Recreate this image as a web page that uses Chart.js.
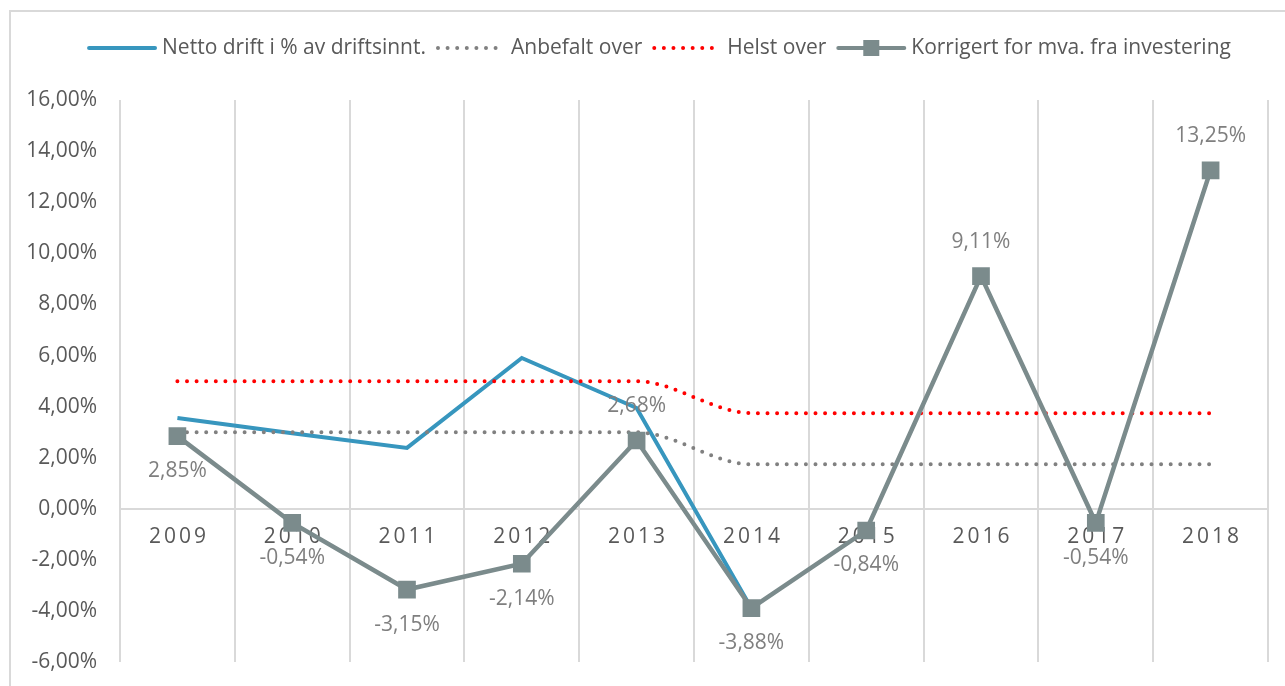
<!DOCTYPE html>
<html>
<head>
<meta charset="utf-8">
<script src="https://cdn.jsdelivr.net/npm/chart.js@4.4.0/dist/chart.umd.min.js"></script>
<style>
html, body { margin: 0; padding: 0; background: #fff; overflow: hidden; width: 1285px; height: 686px; }
#frame { position: absolute; left: 9px; top: 10px; width: 1400px; height: 800px; border-left: 2px solid #d9d9d9; border-top: 2px solid #d9d9d9; }
#wrap { position: absolute; left: 0; top: 0; width: 1285px; height: 698px; }
</style>
</head>
<body>
<div id="frame"></div>
<div id="wrap"><canvas id="chart"></canvas></div>
<script>
// data (percent)
const years = ['2009', '2010', '2011', '2012', '2013', '2014', '2015', '2016', '2017', '2018'];
const netto = [3.56, 2.96, 2.39, 5.91, 3.95, -3.88, null, null, null, null];
const anbefalt = [3, 3, 3, 3, 3, 1.75, 1.75, 1.75, 1.75, 1.75];
const helst = [5, 5, 5, 5, 5, 3.75, 3.75, 3.75, 3.75, 3.75];
const korrigert = [2.85, -0.54, -3.15, -2.14, 2.68, -3.88, -0.84, 9.11, -0.54, 13.25];
const yMin = -6, yMax = 16, yStep = 2;

const FONT = '"Open Sans", sans-serif';
const FSIZE = 21;
const BLUE = '#3796be';
const GREY_LINE = '#7b8b8c';

function pct(v) {
    return v.toFixed(2).replace('.', ',') + '%';
}

// labels above the point for these indexes, below for the rest
const labelsAbove = [4, 7, 9];

// x labels with letter spacing, under the lines
const xLabelsPlugin = {
    id: 'xLabels',
    beforeDatasetsDraw(chart) {
        const ctx = chart.ctx;
        const x = chart.scales.x, y = chart.scales.y;
        const y0 = y.getPixelForValue(0) + 28;
        ctx.save();
        ctx.font = FSIZE + 'px ' + FONT;
        ctx.fillStyle = '#595959';
        ctx.textAlign = 'center';
        ctx.textBaseline = 'middle';
        const sp = 3;
        ctx.letterSpacing = sp + 'px';
        years.forEach((yr, i) => {
            ctx.fillText(yr, x.getPixelForValue(i) + sp / 2, y0);
        });
        ctx.restore();
    }
};

// value labels on the grey series
const valueLabelsPlugin = {
    id: 'valueLabels',
    afterDatasetsDraw(chart) {
        const ctx = chart.ctx;
        const meta = chart.getDatasetMeta(3);
        ctx.save();
        ctx.font = FSIZE + 'px ' + FONT;
        ctx.fillStyle = '#7f7f7f';
        ctx.textAlign = 'center';
        ctx.textBaseline = 'middle';
        meta.data.forEach((pt, i) => {
            const off = labelsAbove.includes(i) ? -34 : 35;
            ctx.fillText(pct(korrigert[i]), pt.x, pt.y + off);
        });
        ctx.restore();
    }
};

// legend drawn by hand so the swatches look like the Excel ones
const legendPlugin = {
    id: 'customLegend',
    afterDraw(chart) {
        const ctx = chart.ctx;
        const ds = chart.data.datasets;
        const sw = 70, gapText = 5, gapItem = 10, yy = 48;
        ctx.save();
        ctx.font = FSIZE + 'px ' + FONT;
        let total = 0;
        ds.forEach(d => { total += sw + gapText + ctx.measureText(d.label).width + gapItem; });
        total -= gapItem;
        let x = 659 - total / 2;
        ds.forEach(d => {
            ctx.save();
            ctx.strokeStyle = d.borderColor;
            ctx.lineWidth = 4;
            ctx.lineCap = 'round';
            if (d.borderDash) ctx.setLineDash(d.borderDash);
            ctx.beginPath();
            ctx.moveTo(x + 2, yy);
            ctx.lineTo(x + sw - 2, yy);
            ctx.stroke();
            if (d.pointRadius) {
                ctx.fillStyle = d.borderColor;
                ctx.fillRect(x + sw / 2 - 8, yy - 8, 16, 16);
            }
            ctx.restore();
            ctx.fillStyle = '#595959';
            ctx.textBaseline = 'middle';
            ctx.textAlign = 'left';
            ctx.fillText(d.label, x + sw + gapText, yy);
            x += sw + gapText + ctx.measureText(d.label).width + gapItem;
        });
        ctx.restore();
    }
};

new Chart(document.getElementById('chart'), {
    type: 'line',
    data: {
        labels: years,
        datasets: [
            {
                label: 'Netto drift i % av driftsinnt.',
                data: netto,
                borderColor: BLUE,
                backgroundColor: BLUE,
                borderWidth: 4,
                pointRadius: 0,
                order: 4
            },
            {
                label: 'Anbefalt over',
                data: anbefalt,
                borderColor: '#808080',
                backgroundColor: '#808080',
                borderWidth: 4,
                borderDash: [0, 9.6],
                borderCapStyle: 'round',
                cubicInterpolationMode: 'monotone',
                pointRadius: 0,
                order: 3
            },
            {
                label: 'Helst over',
                data: helst,
                borderColor: '#ff0000',
                backgroundColor: '#ff0000',
                borderWidth: 4,
                borderDash: [0, 9.6],
                borderCapStyle: 'round',
                cubicInterpolationMode: 'monotone',
                pointRadius: 0,
                order: 2
            },
            {
                label: 'Korrigert for mva. fra investering',
                data: korrigert,
                borderColor: GREY_LINE,
                backgroundColor: GREY_LINE,
                borderWidth: 4.5,
                pointStyle: 'rect',
                pointRadius: 12.5,
                pointBorderWidth: 0,
                order: 1
            }
        ]
    },
    options: {
        responsive: true,
        maintainAspectRatio: false,
        animation: false,
        layout: { padding: { top: 100, right: 17, bottom: 24, left: 0 } },
        plugins: {
            legend: { display: false },
            tooltip: { enabled: false }
        },
        scales: {
            x: {
                offset: true,
                afterFit(axis) { axis.height = 0; },
                grid: { offset: true, color: '#d9d9d9', lineWidth: 2, drawTicks: false },
                border: { display: false },
                ticks: { display: false }
            },
            y: {
                min: yMin,
                max: yMax,
                afterFit(axis) { axis.width = 120; },
                border: { display: false },
                grid: {
                    drawTicks: false,
                    lineWidth: 2,
                    color: c => (c.tick && c.tick.value === 0 ? '#d9d9d9' : 'rgba(0,0,0,0)')
                },
                ticks: {
                    stepSize: yStep,
                    padding: 23,
                    color: '#595959',
                    font: { family: FONT, size: FSIZE },
                    callback: v => pct(v)
                }
            }
        }
    },
    plugins: [xLabelsPlugin, valueLabelsPlugin, legendPlugin]
});
</script>
</body>
</html>
